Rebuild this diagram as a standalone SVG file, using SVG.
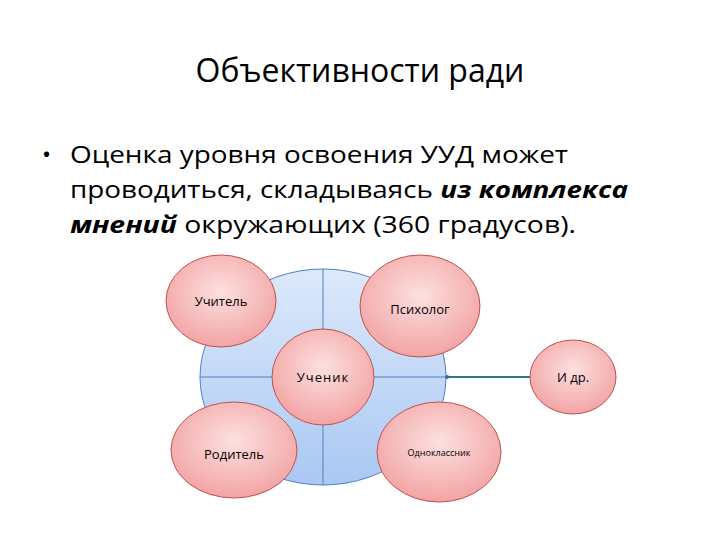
<svg xmlns="http://www.w3.org/2000/svg" width="720" height="540" viewBox="0 0 720 540">
<defs>
<radialGradient id="pink" cx="50%" cy="40%" r="60%"><stop offset="0" stop-color="#fde0e0"/><stop offset="1" stop-color="#f2a4a4"/></radialGradient>
<linearGradient id="blue" x1="0" y1="0" x2="0" y2="1"><stop offset="0" stop-color="#dde9fb"/><stop offset="1" stop-color="#a9c8f3"/></linearGradient>
</defs>
<style>
.t{font-family:"Open Sans","Noto Sans",sans-serif;fill:#000}
.n{fill:url(#pink);stroke:#c0504d;stroke-width:1}
.l{font-family:"Open Sans","Noto Sans",sans-serif;font-size:13px;fill:#000;text-anchor:middle}
</style>
<rect width="720" height="540" fill="#fff"/>
<text class="t" x="360" y="82" font-size="32" text-anchor="middle">Объективности ради</text>
<text class="t" x="42" y="163" font-size="24">•</text>
<text class="t" x="70" y="163" font-size="24" textLength="498" lengthAdjust="spacingAndGlyphs">Оценка уровня освоения УУД может</text>
<text class="t" x="70" y="198" font-size="24" textLength="558" lengthAdjust="spacingAndGlyphs">проводиться, складываясь <tspan font-weight="bold" font-style="italic">из комплекса</tspan></text>
<text class="t" x="70" y="233" font-size="24" textLength="506" lengthAdjust="spacingAndGlyphs"><tspan font-weight="bold" font-style="italic">мнений</tspan> окружающих (360 градусов).</text>
<g id="base">
<ellipse cx="323" cy="377" rx="123" ry="108" fill="url(#blue)" stroke="#4f81bd"/>
<line x1="323" y1="269" x2="323" y2="485" stroke="#4f81bd"/>
<line x1="200" y1="377" x2="446" y2="377" stroke="#4f81bd"/>
</g>
<g id="connectors">
<line x1="446" y1="377" x2="531" y2="377" stroke="#31708f" stroke-width="2"/>
<circle cx="447" cy="377" r="2" fill="#31708f"/>
</g>
<g id="uchitel"><ellipse class="n" cx="221" cy="301" rx="55" ry="46"/><text class="l" x="221" y="306">Учитель</text></g>
<g id="psiholog"><ellipse class="n" cx="420" cy="306" rx="60" ry="51"/><text class="l" x="420" y="314">Психолог</text></g>
<g id="uchenik"><ellipse class="n" cx="323" cy="377" rx="51" ry="48"/><text class="l" x="323" y="382" letter-spacing="1">Ученик</text></g>
<g id="idr"><ellipse class="n" cx="573" cy="377" rx="43" ry="37"/><text class="l" x="573" y="382">И др.</text></g>
<g id="roditel"><ellipse class="n" cx="234" cy="450" rx="63" ry="48"/><text class="l" x="234" y="459">Родитель</text></g>
<g id="odnoklassnik"><ellipse class="n" cx="439" cy="452" rx="62" ry="50"/><text class="l" x="439" y="456" style="font-size:9px">Одноклассник</text></g>
</svg>
